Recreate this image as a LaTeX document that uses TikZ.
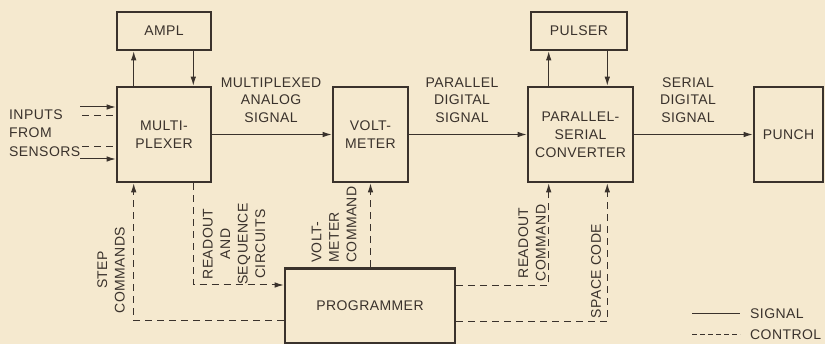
\documentclass[tikz,border=0pt]{standalone}
\usepackage{fontspec}
\setmainfont[LetterSpace=3]{Liberation Sans}
\usepackage{tikz}
\usetikzlibrary{arrows.meta}
\definecolor{paper}{RGB}{245,233,207}
\definecolor{ink}{RGB}{58,50,44}

\begin{document}
\begin{tikzpicture}[
			x=1pt, y=-1pt,
			box style/.style={
				draw=ink,
				line width=2.6pt,
				align=center,
				inner sep=0pt,
				text=ink,
				font=\fontsize{14}{18}\selectfont
			},
			label style/.style={
				align=center,
				inner sep=0pt,
				text=ink,
				font=\fontsize{14}{17.5}\selectfont
			},
			signal line/.style={draw=ink, line width=1pt},
			control line/.style={draw=ink, line width=1pt, dash pattern=on 7pt off 5pt},
			>={Latex[length=9pt,width=5.5pt]}
			]
			
			\fill[paper] (0,0) rectangle (825,344);
			\useasboundingbox (0,0) rectangle (825,344);
			
			\node[box style, minimum width=94pt, minimum height=38pt] (ampl) at (164,31) {AMPL};
			\node[box style, minimum width=94pt, minimum height=95pt] (mux) at (164,134.5) {MULTI-\\PLEXER};
			\node[box style, minimum width=75pt, minimum height=95pt] (volt) at (370.5,134.5) {VOLT-\\METER};
			\node[box style, minimum width=96pt, minimum height=38pt] (pulser) at (579,31) {PULSER};
			\node[box style, minimum width=105pt, minimum height=95pt] (conv) at (580.5,134.5) {PARALLEL-\\SERIAL\\CONVERTER};
			\node[box style, minimum width=69pt, minimum height=95pt] (punch) at (788.5,134.5) {PUNCH};
			\node[box style, minimum width=170pt, minimum height=75pt] (prog) at (370,306) {PROGRAMMER};
			
			\node[label style, align=left, anchor=west, font=\fontsize{14}{18.5}\selectfont] (inlbl) at (9,133) {INPUTS\\FROM\\SENSORS};
			\node[label style] (mal) at (271,100) {MULTIPLEXED\\ANALOG\\SIGNAL};
			\node[label style] (pdl) at (462,100) {PARALLEL\\DIGITAL\\SIGNAL};
			\node[label style] (sdl) at (688,100) {SERIAL\\DIGITAL\\SIGNAL};
			
			\node[label style, rotate=90] (steplbl) at (111,270) {STEP\\COMMANDS};
			\node[label style, rotate=90] (rsclbl) at (234,244) {READOUT\\AND\\SEQUENCE\\CIRCUITS};
			\node[label style, rotate=90, align=left, anchor=west] (vclbl) at (334,263) {VOLT-\\METER\\COMMAND};
			\node[label style, rotate=90] (rclbl) at (532,243) {READOUT\\COMMAND};
			\node[label style, rotate=90] (sclbl) at (596,271) {SPACE CODE};
			
			% inputs
			\coordinate (in1) at (80,107);
			\coordinate (in2) at (82,116);
			\coordinate (in3) at (82,147);
			\coordinate (in4) at (80,159);
			\draw[signal line, ->] (in1) -- (in1 -| mux.west);
			\draw[control line] (in2) -- (in2 -| mux.west);
			\draw[control line] (in3) -- (in3 -| mux.west);
			\draw[signal line, ->] (in4) -- (in4 -| mux.west);
			
			% signal paths
			\draw[signal line, ->] ([xshift=18pt]mux.north west) -- ([xshift=18pt]mux.north west |- ampl.south);
			\draw[signal line, ->] ([xshift=-19pt]mux.north east |- ampl.south) -- ([xshift=-19pt]mux.north east);
			\draw[signal line, ->] ([xshift=22pt]conv.north west) -- ([xshift=22pt]conv.north west |- pulser.south);
			\draw[signal line, ->] ([xshift=-27pt]conv.north east |- pulser.south) -- ([xshift=-27pt]conv.north east);
			\draw[signal line, ->] (mux) -- (volt);
			\draw[signal line, ->] (volt) -- (conv);
			\draw[signal line, ->] (conv) -- (punch);
			
			% control paths
			\draw[control line, ->] ([yshift=-15pt]prog.west) -| ([xshift=18pt]mux.south west);
			\draw[control line, ->] ([xshift=-19pt]mux.south east) |- ([yshift=21pt]prog.west);
			\draw[control line, ->] (prog.north -| volt.south) -- (volt.south);
			\draw[control line, ->] ([yshift=20pt]prog.east) -| ([xshift=22pt]conv.south west);
			\draw[control line, ->] ([yshift=-16pt]prog.east) -| ([xshift=-27pt]conv.south east);
			
			% legend
			\coordinate (sigA) at (692,314);
			\coordinate (sigB) at (740,314);
			\coordinate (ctlA) at (692,335);
			\coordinate (ctlB) at (740,335);
			\node[label style, anchor=west] (siglbl) at (750,314) {SIGNAL};
			\node[label style, anchor=west] (ctllbl) at (750,335) {CONTROL};
			\draw[signal line] (sigA) -- (sigB);
			\draw[control line, dash pattern=on 5pt off 3pt] (ctlA) -- (ctlB);
			
		\end{tikzpicture}
\end{document}
